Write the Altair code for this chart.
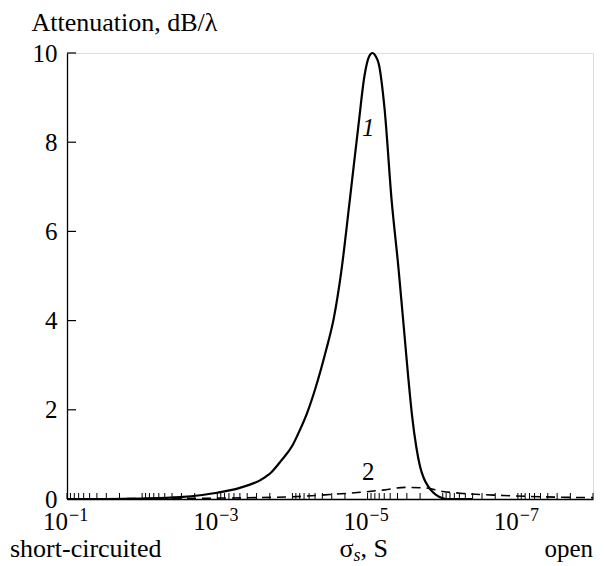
import altair as alt
import pandas as pd

# ---- data ----
curve1_log_sigma = [-1.0, -1.5, -2.0, -2.5, -2.8, -3.0, -3.3, -3.58, -3.72, -3.85, -4.0, -4.1,
                    -4.2, -4.3, -4.45, -4.55, -4.65, -4.76, -4.88, -4.96, -5.02, -5.065, -5.11,
                    -5.15, -5.225, -5.32, -5.41, -5.49, -5.545, -5.59, -5.65, -5.7, -5.75, -5.8,
                    -5.87, -5.95, -6.05, -6.4]
curve1_atten = [0.0, 0.0, 0.01, 0.04, 0.09, 0.14, 0.25, 0.43, 0.6, 0.86, 1.2, 1.55,
                1.95, 2.45, 3.35, 4.05, 5.1, 6.65, 8.4, 9.5, 9.92, 10.0, 9.92,
                9.75, 8.77, 6.7, 5.2, 3.7, 2.66, 1.9, 1.15, 0.72, 0.46, 0.3,
                0.15, 0.05, 0.0, 0.0]

curve2_log_sigma = [-1.0, -2.0, -3.0, -4.0, -4.5, -4.9, -5.2, -5.5, -5.75, -6.0, -6.3, -6.8, -7.3, -8.0]
curve2_atten = [0.0, 0.01, 0.02, 0.05, 0.1, 0.15, 0.2, 0.26, 0.25, 0.17, 0.12, 0.08, 0.05, 0.03]

y_ticks = [0, 2, 4, 6, 8, 10]
x_label_exponents = [-1, -3, -5, -7]
x_minor_ticks = [m * 10.0 ** k for k in range(-8, -1) for m in range(1, 10)] + [0.1]

W, H = 526, 446
FONT = "Liberation Serif"

xscale = alt.Scale(type="log", domain=[1e-8, 1e-1], reverse=True, nice=False)
yscale = alt.Scale(domain=[0, 10], nice=False, zero=True)

XAXIS = alt.Axis(labels=False, ticks=False, title=None, grid=False,
                 domainColor="black", domainWidth=1.3)
YAXIS = alt.Axis(values=y_ticks, ticks=False, tickSize=0, labelPadding=10,
                 labelFont=FONT, labelFontSize=25, labelColor="black",
                 title="Attenuation, dB/\u03bb", titleAngle=0, titleAlign="left",
                 titleBaseline="alphabetic", titleX=-36, titleY=-23,
                 titleFont=FONT, titleFontSize=26, titleFontWeight="normal",
                 titleColor="black", grid=False, domainColor="black", domainWidth=1.3)


def X(field):
    return alt.X(field, scale=xscale, axis=XAXIS)


def Y(field):
    return alt.Y(field, scale=yscale, axis=YAXIS)


c1 = pd.DataFrame({"sigma": [10.0 ** v for v in curve1_log_sigma], "att": curve1_atten})
c2 = pd.DataFrame({"sigma": [10.0 ** v for v in curve2_log_sigma], "att": curve2_atten})
xt = pd.DataFrame({"sigma": x_minor_ticks})
yt = pd.DataFrame({"att": y_ticks})
xl = pd.DataFrame({"sigma": [10.0 ** e for e in x_label_exponents],
                   "base": ["10"] * len(x_label_exponents),
                   "exp": ["\u2212" + str(-e) for e in x_label_exponents]})

line1 = alt.Chart(c1).mark_line(color="black", strokeWidth=2.2, interpolate="monotone").encode(
    x=X("sigma:Q"), y=Y("att:Q"))

line2 = alt.Chart(c2).mark_line(color="black", strokeWidth=1.6, strokeDash=[9, 6],
                                interpolate="monotone").encode(
    x=X("sigma:Q"), y=Y("att:Q"))

xticks = alt.Chart(xt).mark_rule(color="black", strokeWidth=1).encode(
    x=X("sigma:Q"), y=alt.value(H), y2=alt.value(H - 6))

yticks = alt.Chart(yt).mark_rule(color="black", strokeWidth=1.2).encode(
    y=Y("att:Q"), x=alt.value(0), x2=alt.value(9))

xbase = alt.Chart(xl).mark_text(font=FONT, fontSize=25, align="right",
                                baseline="alphabetic", dx=1, color="black").encode(
    x=X("sigma:Q"), y=alt.value(H + 31), text="base:N")
xexp = alt.Chart(xl).mark_text(font=FONT, fontSize=18, align="left", baseline="alphabetic",
                               dx=2, color="black").encode(
    x=X("sigma:Q"), y=alt.value(H + 22), text="exp:N")

ann = pd.DataFrame({"sigma": [1e-1, 1e-8], "txt": ["short-circuited", "open"]})
left_txt = alt.Chart(ann.iloc[[0]]).mark_text(font=FONT, fontSize=26, align="left",
                                              baseline="alphabetic", dx=-57, color="black").encode(
    x=X("sigma:Q"), y=alt.value(H + 58), text="txt:N")
right_txt = alt.Chart(ann.iloc[[1]]).mark_text(font=FONT, fontSize=25, align="right",
                                               baseline="alphabetic", color="black").encode(
    x=X("sigma:Q"), y=alt.value(H + 58), text="txt:N")

sig = pd.DataFrame({"sigma": [1e-5]})
sig_main = alt.Chart(sig).mark_text(font=FONT, fontSize=26, align="left", baseline="alphabetic",
                                    dx=-28, color="black", text="\u03c3").encode(
    x=X("sigma:Q"), y=alt.value(H + 58))
sig_sub = alt.Chart(sig).mark_text(font=FONT, fontSize=18, fontStyle="italic", align="left",
                                   baseline="alphabetic", dx=-14, color="black", text="s").encode(
    x=X("sigma:Q"), y=alt.value(H + 62))
sig_rest = alt.Chart(sig).mark_text(font=FONT, fontSize=26, align="left", baseline="alphabetic",
                                    dx=-7, color="black", text=", S").encode(
    x=X("sigma:Q"), y=alt.value(H + 58))

lab = pd.DataFrame({"sigma": [10 ** -5.01, 10 ** -5.01], "att": [8.32, 0.6], "txt": ["1", "2"]})
lab1 = alt.Chart(lab.iloc[[0]]).mark_text(font=FONT, fontSize=25, fontStyle="italic",
                                          align="center", baseline="middle", color="black").encode(
    x=X("sigma:Q"), y=Y("att:Q"), text="txt:N")
lab2 = alt.Chart(lab.iloc[[1]]).mark_text(font=FONT, fontSize=25, align="center",
                                          baseline="middle", color="black").encode(
    x=X("sigma:Q"), y=Y("att:Q"), text="txt:N")

chart = alt.layer(line1, line2, xticks, yticks, xbase, xexp, left_txt, right_txt,
                  sig_main, sig_sub, sig_rest, lab1, lab2).properties(
    width=W, height=H,
    autosize=alt.AutoSizeParams(type="none"),
    padding={"left": 59, "top": 45, "right": 3, "bottom": 70},
).configure_view(stroke=None).configure(background="white")

chart.save("out.html", embed_options={"renderer": "svg", "actions": False})
